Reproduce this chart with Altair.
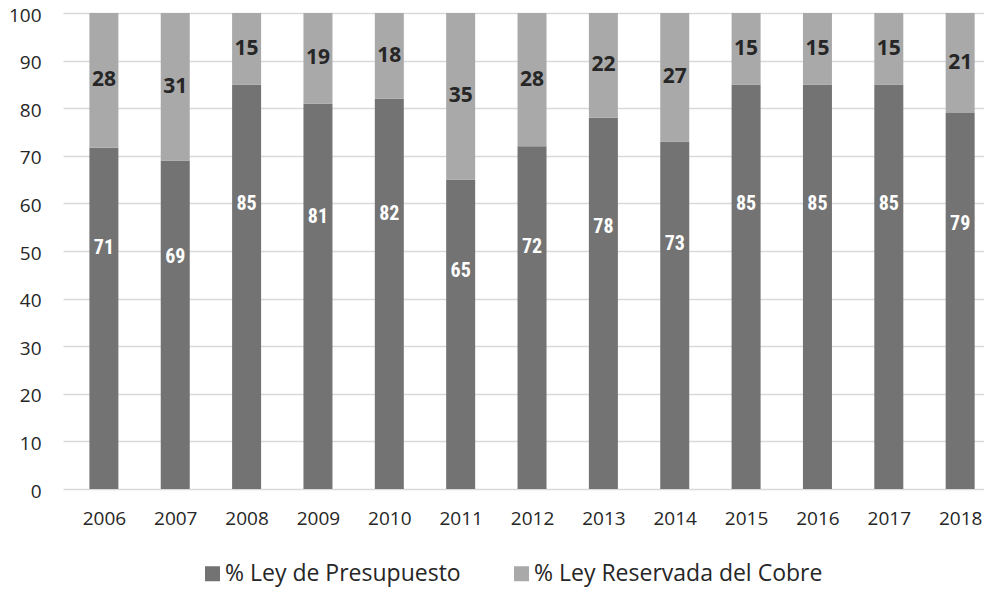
import altair as alt
import pandas as pd

years = [2006, 2007, 2008, 2009, 2010, 2011, 2012, 2013, 2014, 2015, 2016, 2017, 2018]
presupuesto = [71, 69, 85, 81, 82, 65, 72, 78, 73, 85, 85, 85, 79]
reservada = [28, 31, 15, 19, 18, 35, 28, 22, 27, 15, 15, 15, 21]
series = ["% Ley de Presupuesto", "% Ley Reservada del Cobre"]
colors = ["#737373", "#a9a9a9"]

rows = []
for y, p, r in zip(years, presupuesto, reservada):
    rows.append({"year": y, "series": series[0], "idx": 0, "value": p})
    rows.append({"year": y, "series": series[1], "idx": 1, "value": r})
df = pd.DataFrame(rows)

FONT = "Open Sans"

base = alt.Chart(df).transform_joinaggregate(
    total="sum(value)", groupby=["year"]
).transform_calculate(
    pct="datum.value / datum.total * 100"
)

xscale = alt.Scale(domain=[2005.497, 2018.264], nice=False, zero=False)

xenc = alt.X(
    "year:Q",
    title=None,
    scale=xscale,
    axis=alt.Axis(values=years, format="d", labelAngle=0, domain=False, ticks=False,
                  labelPadding=20, labelFlush=False, labelFontSize=19, labelFont=FONT,
                  labelColor="#262626", grid=False),
)

bars = base.mark_bar(size=29).encode(
    x=xenc,
    y=alt.Y(
        "pct:Q",
        stack="zero",
        title=None,
        scale=alt.Scale(domain=[0, 100], nice=False),
        axis=alt.Axis(values=list(range(0, 101, 10)), domain=False, ticks=False,
                      labelPadding=22, labelOffset=2, labelFontSize=19, labelFont=FONT,
                      labelColor="#262626", gridColor="#d9d9d9", gridWidth=1.5),
    ),
    color=alt.Color(
        "series:N",
        scale=alt.Scale(domain=series, range=colors),
        legend=alt.Legend(
            title=None, orient="none", direction="horizontal",
            legendX=138, legendY=549, symbolType="square", symbolSize=225,
            symbolStrokeWidth=0, labelFontSize=23, labelFont=FONT,
            labelColor="#262626", columnPadding=49, labelOffset=1, labelLimit=400,
        ),
    ),
    order=alt.Order("idx:Q", sort="ascending"),
)

bottom_text = base.transform_filter("datum.idx == 0").transform_calculate(
    ypos="datum.pct * 0.705"
).mark_text(
    color="white", fontWeight="bold", fontSize=20,
    font="Liberation Sans Narrow, Roboto Condensed, Liberation Sans",
).encode(
    x=alt.X("year:Q", scale=xscale),
    y=alt.Y("ypos:Q"),
    text=alt.Text("value:Q"),
)

top_text = base.transform_filter("datum.idx == 1").transform_calculate(
    ypos="100 - datum.pct / 2"
).mark_text(
    color="#262626", fontWeight="bold", fontSize=21, font=FONT,
).encode(
    x=alt.X("year:Q", scale=xscale),
    y=alt.Y("ypos:Q"),
    text=alt.Text("value:Q"),
)

chart = alt.layer(bars, bottom_text, top_text).properties(
    width=921,
    height=476,
    padding={"left": 55, "top": 5, "right": 0, "bottom": 100},
    autosize=alt.AutoSizeParams(type="none"),
).configure_view(stroke=None)

chart.save("out.html", embed_options={"renderer": "svg", "actions": False})
